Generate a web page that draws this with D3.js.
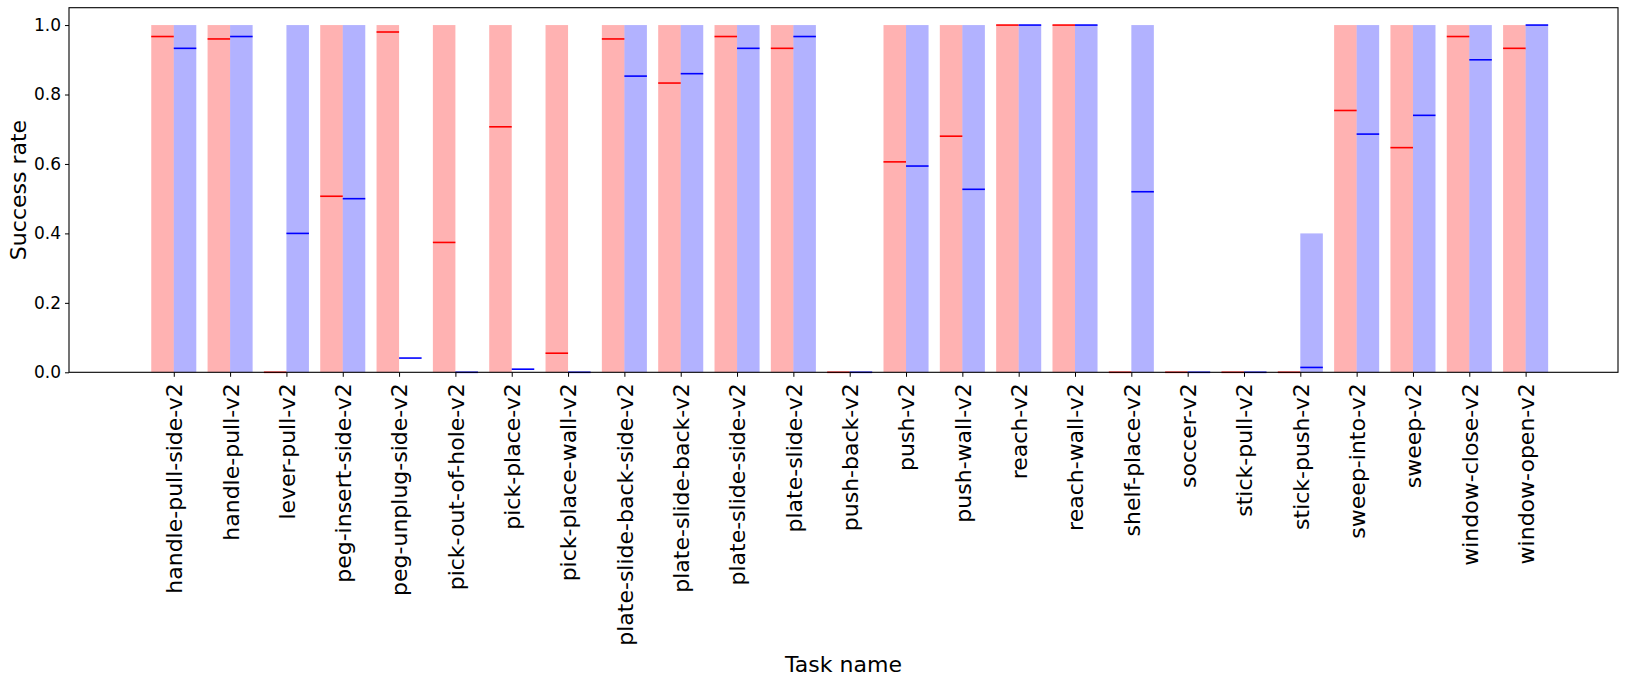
<!DOCTYPE html>
<html>
<head>
<meta charset="utf-8">
<script src="https://cdn.jsdelivr.net/npm/d3@7"></script>
<style>
  body { margin: 0; background: #fff; }
  text { font-family: "DejaVu Sans", sans-serif; fill: #000; }
</style>
</head>
<body>
<div id="chart"></div>
<script>
// data
const tasks = ["handle-pull-side-v2", "handle-pull-v2", "lever-pull-v2", "peg-insert-side-v2",
  "peg-unplug-side-v2", "pick-out-of-hole-v2", "pick-place-v2", "pick-place-wall-v2",
  "plate-slide-back-side-v2", "plate-slide-back-v2", "plate-slide-side-v2", "plate-slide-v2",
  "push-back-v2", "push-v2", "push-wall-v2", "reach-v2", "reach-wall-v2", "shelf-place-v2",
  "soccer-v2", "stick-pull-v2", "stick-push-v2", "sweep-into-v2", "sweep-v2",
  "window-close-v2", "window-open-v2"];
const redMax = [1, 1, 0, 1, 1, 1, 1, 1, 1, 1, 1, 1, 0, 1, 1, 1, 1, 0, 0, 0, 0, 1, 1, 1, 1];
const redMean = [0.967, 0.96, 0, 0.507, 0.98, 0.374, 0.707, 0.055, 0.96, 0.833, 0.967, 0.933,
  0, 0.606, 0.68, 1, 1, 0, 0, 0, 0, 0.754, 0.647, 0.967, 0.933];
const blueMax = [1, 1, 1, 1, 0, 0, 0, 0, 1, 1, 1, 1, 0, 1, 1, 1, 1, 1, 0, 0, 0.4, 1, 1, 1, 1];
const blueMean = [0.933, 0.967, 0.4, 0.5, 0.041, 0, 0.009, 0, 0.853, 0.86, 0.933, 0.967,
  0, 0.594, 0.527, 1, 1, 0.52, 0, 0, 0.014, 0.686, 0.74, 0.9, 1];
const yTicks = [0, 0.2, 0.4, 0.6, 0.8, 1.0];

const W = 1627, H = 687;
const plot = { left: 69, right: 1618, top: 7.7, bottom: 372.3 };
const barW = 0.4;

const svg = d3.select("#chart").append("svg")
    .attr("width", W)
    .attr("height", H);

const x = d3.scaleLinear().domain([-1.86, 25.64]).range([plot.left, plot.right]);
const y = d3.scaleLinear().domain([0, 1.05]).range([plot.bottom, plot.top]);

const rows = tasks.map((t, i) => ({ i, t, rMax: redMax[i], rMean: redMean[i], bMax: blueMax[i], bMean: blueMean[i] }));
const bw = x(barW) - x(0);

// bars (max), alpha 0.3
const bars = svg.append("g");
bars.selectAll(".rbar").data(rows).enter().append("rect")
    .attr("x", d => x(d.i - barW))
    .attr("y", d => y(d.rMax))
    .attr("width", bw)
    .attr("height", d => y(0) - y(d.rMax))
    .attr("fill", "#ff0000").attr("fill-opacity", 0.3);
bars.selectAll(".bbar").data(rows).enter().append("rect")
    .attr("x", d => x(d.i))
    .attr("y", d => y(d.bMax))
    .attr("width", bw)
    .attr("height", d => y(0) - y(d.bMax))
    .attr("fill", "#0000ff").attr("fill-opacity", 0.3);

// mean lines
const lines = svg.append("g");
lines.selectAll(".rline").data(rows).enter().append("line")
    .attr("x1", d => x(d.i - barW)).attr("x2", d => x(d.i))
    .attr("y1", d => y(d.rMean)).attr("y2", d => y(d.rMean))
    .attr("stroke", "#ff0000").attr("stroke-width", 1.6);
lines.selectAll(".bline").data(rows).enter().append("line")
    .attr("x1", d => x(d.i)).attr("x2", d => x(d.i + barW))
    .attr("y1", d => y(d.bMean)).attr("y2", d => y(d.bMean))
    .attr("stroke", "#0000ff").attr("stroke-width", 1.6);

// axes
const yAxis = svg.append("g")
    .attr("transform", `translate(${plot.left},0)`)
    .call(d3.axisLeft(y).tickValues(yTicks).tickFormat(d3.format(".1f")).tickSize(4).tickPadding(4));
yAxis.select(".domain").remove();
yAxis.selectAll("text").style("font-size", "17px").style("font-family", "DejaVu Sans");
yAxis.selectAll("line").attr("stroke", "#000").attr("stroke-width", 1);

const xAxis = svg.append("g")
    .attr("transform", `translate(0,${plot.bottom})`)
    .call(d3.axisBottom(x).tickValues(d3.range(tasks.length)).tickFormat(i => tasks[i]).tickSize(4.5));
xAxis.select(".domain").remove();
xAxis.selectAll("line").attr("stroke", "#000").attr("stroke-width", 1);
xAxis.selectAll("text")
    .style("font-size", "22px").style("font-family", "DejaVu Sans")
    .attr("text-anchor", "end")
    .attr("transform", "translate(0,11) rotate(-90)")
    .attr("x", 0).attr("y", 0).attr("dy", "0.36em");

// frame
svg.append("rect")
    .attr("x", plot.left).attr("y", plot.top)
    .attr("width", plot.right - plot.left).attr("height", plot.bottom - plot.top)
    .attr("fill", "none").attr("stroke", "#000").attr("stroke-width", 1.1);

// labels
svg.append("text")
    .attr("x", (plot.left + plot.right) / 2)
    .attr("y", 672)
    .attr("text-anchor", "middle")
    .style("font-size", "22px")
    .text("Task name");

svg.append("text")
    .attr("transform", `translate(26,${(plot.top + plot.bottom) / 2}) rotate(-90)`)
    .attr("text-anchor", "middle")
    .style("font-size", "22px")
    .text("Success rate");
</script>
</body>
</html>
